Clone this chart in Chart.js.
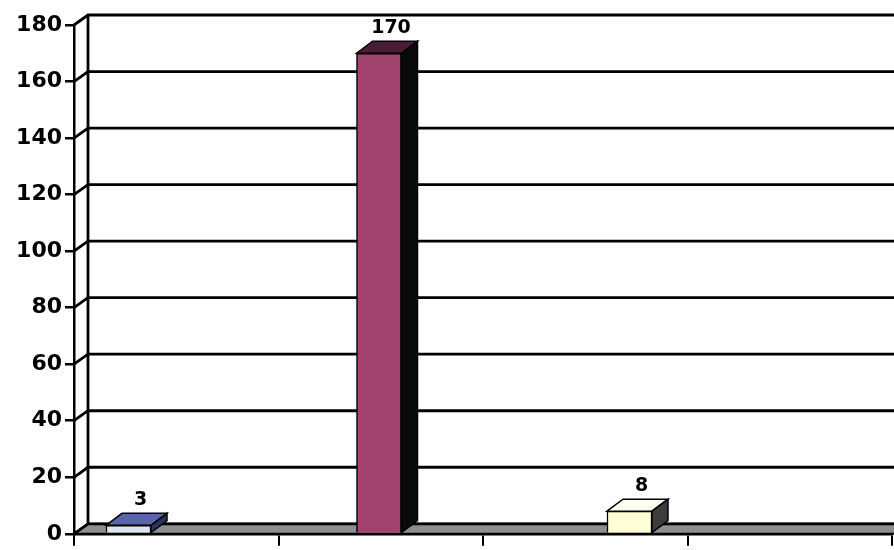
<!DOCTYPE html>
<html>
<head>
<meta charset="utf-8">
<script src="https://cdn.jsdelivr.net/npm/chart.js@4"></script>
<style>
  html, body { margin: 0; padding: 0; background: #fff; overflow: hidden; }
  #wrap { width: 894px; height: 550px; }
</style>
</head>
<body>
<div id="wrap"><canvas id="barChart"></canvas></div>
<script>
// slots along the floor (their names sit below the visible area)
const slots = ['1', '2', '3', '4'];
// one column per series, placed by slot index
const barSlot = [0, 1, 2];
const barValues = [3, 170, 8];
const yTicks = [0, 20, 40, 60, 80, 100, 120, 140, 160, 180];

// column faces: front, top, side
const frontColors = ['#dde5f3', '#a2436f', '#ffffd6'];
const topColors = ['#5866a6', '#4a1c36', '#fffff2'];
const sideColors = ['#2c3360', '#0a0a0a', '#3c3c3c'];

// depth of the back wall and of the columns
const WALL_DX = 14, WALL_DY = 10;
const BAR_DX = 16, BAR_DY = 12;

function poly(ctx, pts, fill) {
  ctx.beginPath();
  ctx.moveTo(pts[0][0], pts[0][1]);
  for (let i = 1; i < pts.length; i++) ctx.lineTo(pts[i][0], pts[i][1]);
  ctx.closePath();
  ctx.fillStyle = fill;
  ctx.fill();
  ctx.stroke();
}

const depth3d = {
  id: 'depth3d',
  beforeDatasetsDraw(chart) {
    const ctx = chart.ctx, a = chart.chartArea, y = chart.scales.y;
    const w = chart.width;
    ctx.save();
    // floor strip
    ctx.strokeStyle = '#000';
    ctx.lineWidth = 2;
    poly(ctx, [[a.left, a.bottom], [a.left + WALL_DX, a.bottom - WALL_DY],
               [w + 2, a.bottom - WALL_DY], [w + 2, a.bottom]], '#8e8e8e');
    // gridlines on the side and back walls
    ctx.lineWidth = 2.8;
    yTicks.forEach(function (v) {
      const py = y.getPixelForValue(v);
      ctx.beginPath();
      ctx.moveTo(a.left, py);
      ctx.lineTo(a.left + WALL_DX, py - WALL_DY);
      ctx.lineTo(w + 2, py - WALL_DY);
      ctx.stroke();
    });
    // corner where side wall meets back wall
    ctx.beginPath();
    ctx.moveTo(a.left + WALL_DX, y.getPixelForValue(yTicks[yTicks.length - 1]) - WALL_DY);
    ctx.lineTo(a.left + WALL_DX, a.bottom - WALL_DY);
    ctx.stroke();
    ctx.restore();
  },
  afterDatasetsDraw(chart) {
    const ctx = chart.ctx;
    const meta = chart.getDatasetMeta(0);
    ctx.save();
    ctx.strokeStyle = '#000';
    ctx.lineWidth = 1.5;
    meta.data.forEach(function (bar, i) {
      const p = bar.getProps(['x', 'y', 'base', 'width'], true);
      const x0 = p.x - p.width / 2, x1 = p.x + p.width / 2;
      poly(ctx, [[x0, p.y], [x0 + BAR_DX, p.y - BAR_DY], [x1 + BAR_DX, p.y - BAR_DY], [x1, p.y]], topColors[i]);
      poly(ctx, [[x1, p.y], [x1 + BAR_DX, p.y - BAR_DY], [x1 + BAR_DX, p.base - BAR_DY], [x1, p.base]], sideColors[i]);
      // value above the column
      ctx.fillStyle = '#000';
      ctx.font = 'bold 19px "DejaVu Sans"';
      ctx.textAlign = 'center';
      ctx.textBaseline = 'middle';
      ctx.fillText(String(barValues[i]), p.x + BAR_DX / 2 + 4, p.y - BAR_DY - 13);
    });
    ctx.restore();
  }
};

const ctx = document.getElementById('barChart').getContext('2d');
const chart = new Chart(ctx, {
  type: 'bar',
  data: {
    labels: slots,
    datasets: [{
      xAxisID: 'xb',
      data: barSlot.map(function (s, i) { return { x: s, y: barValues[i] }; }),
      backgroundColor: frontColors,
      borderColor: '#000',
      borderWidth: 1.5,
      barThickness: 45
    }]
  },
  options: {
    responsive: true,
    maintainAspectRatio: false,
    animation: false,
    layout: { padding: { top: 25, right: 2, left: 0, bottom: 0 } },
    plugins: { legend: { display: false }, tooltip: { enabled: false } },
    scales: {
      x: {
        type: 'category',
        offset: true,
        grid: { offset: true, drawOnChartArea: false, tickLength: 12, color: '#000', lineWidth: 2 },
        border: { display: true, color: '#000', width: 2.5 },
        ticks: { display: false },
        afterFit: function (s) { s.height = 12; }
      },
      xb: {
        type: 'linear',
        display: false,
        offset: false,
        min: -0.2176,
        max: 3.048
      },
      y: {
        min: 0,
        max: 180,
        ticks: {
          stepSize: 20,
          color: '#000',
          padding: 3,
          font: { family: 'DejaVu Sans', size: 22, weight: 'bold' }
        },
        grid: { drawOnChartArea: false, tickLength: 9, color: '#000', lineWidth: 2.5 },
        border: { display: true, color: '#000', width: 2.5 },
        afterFit: function (s) { s.width = 74; }
      }
    }
  },
  plugins: [depth3d]
});
</script>
</body>
</html>
